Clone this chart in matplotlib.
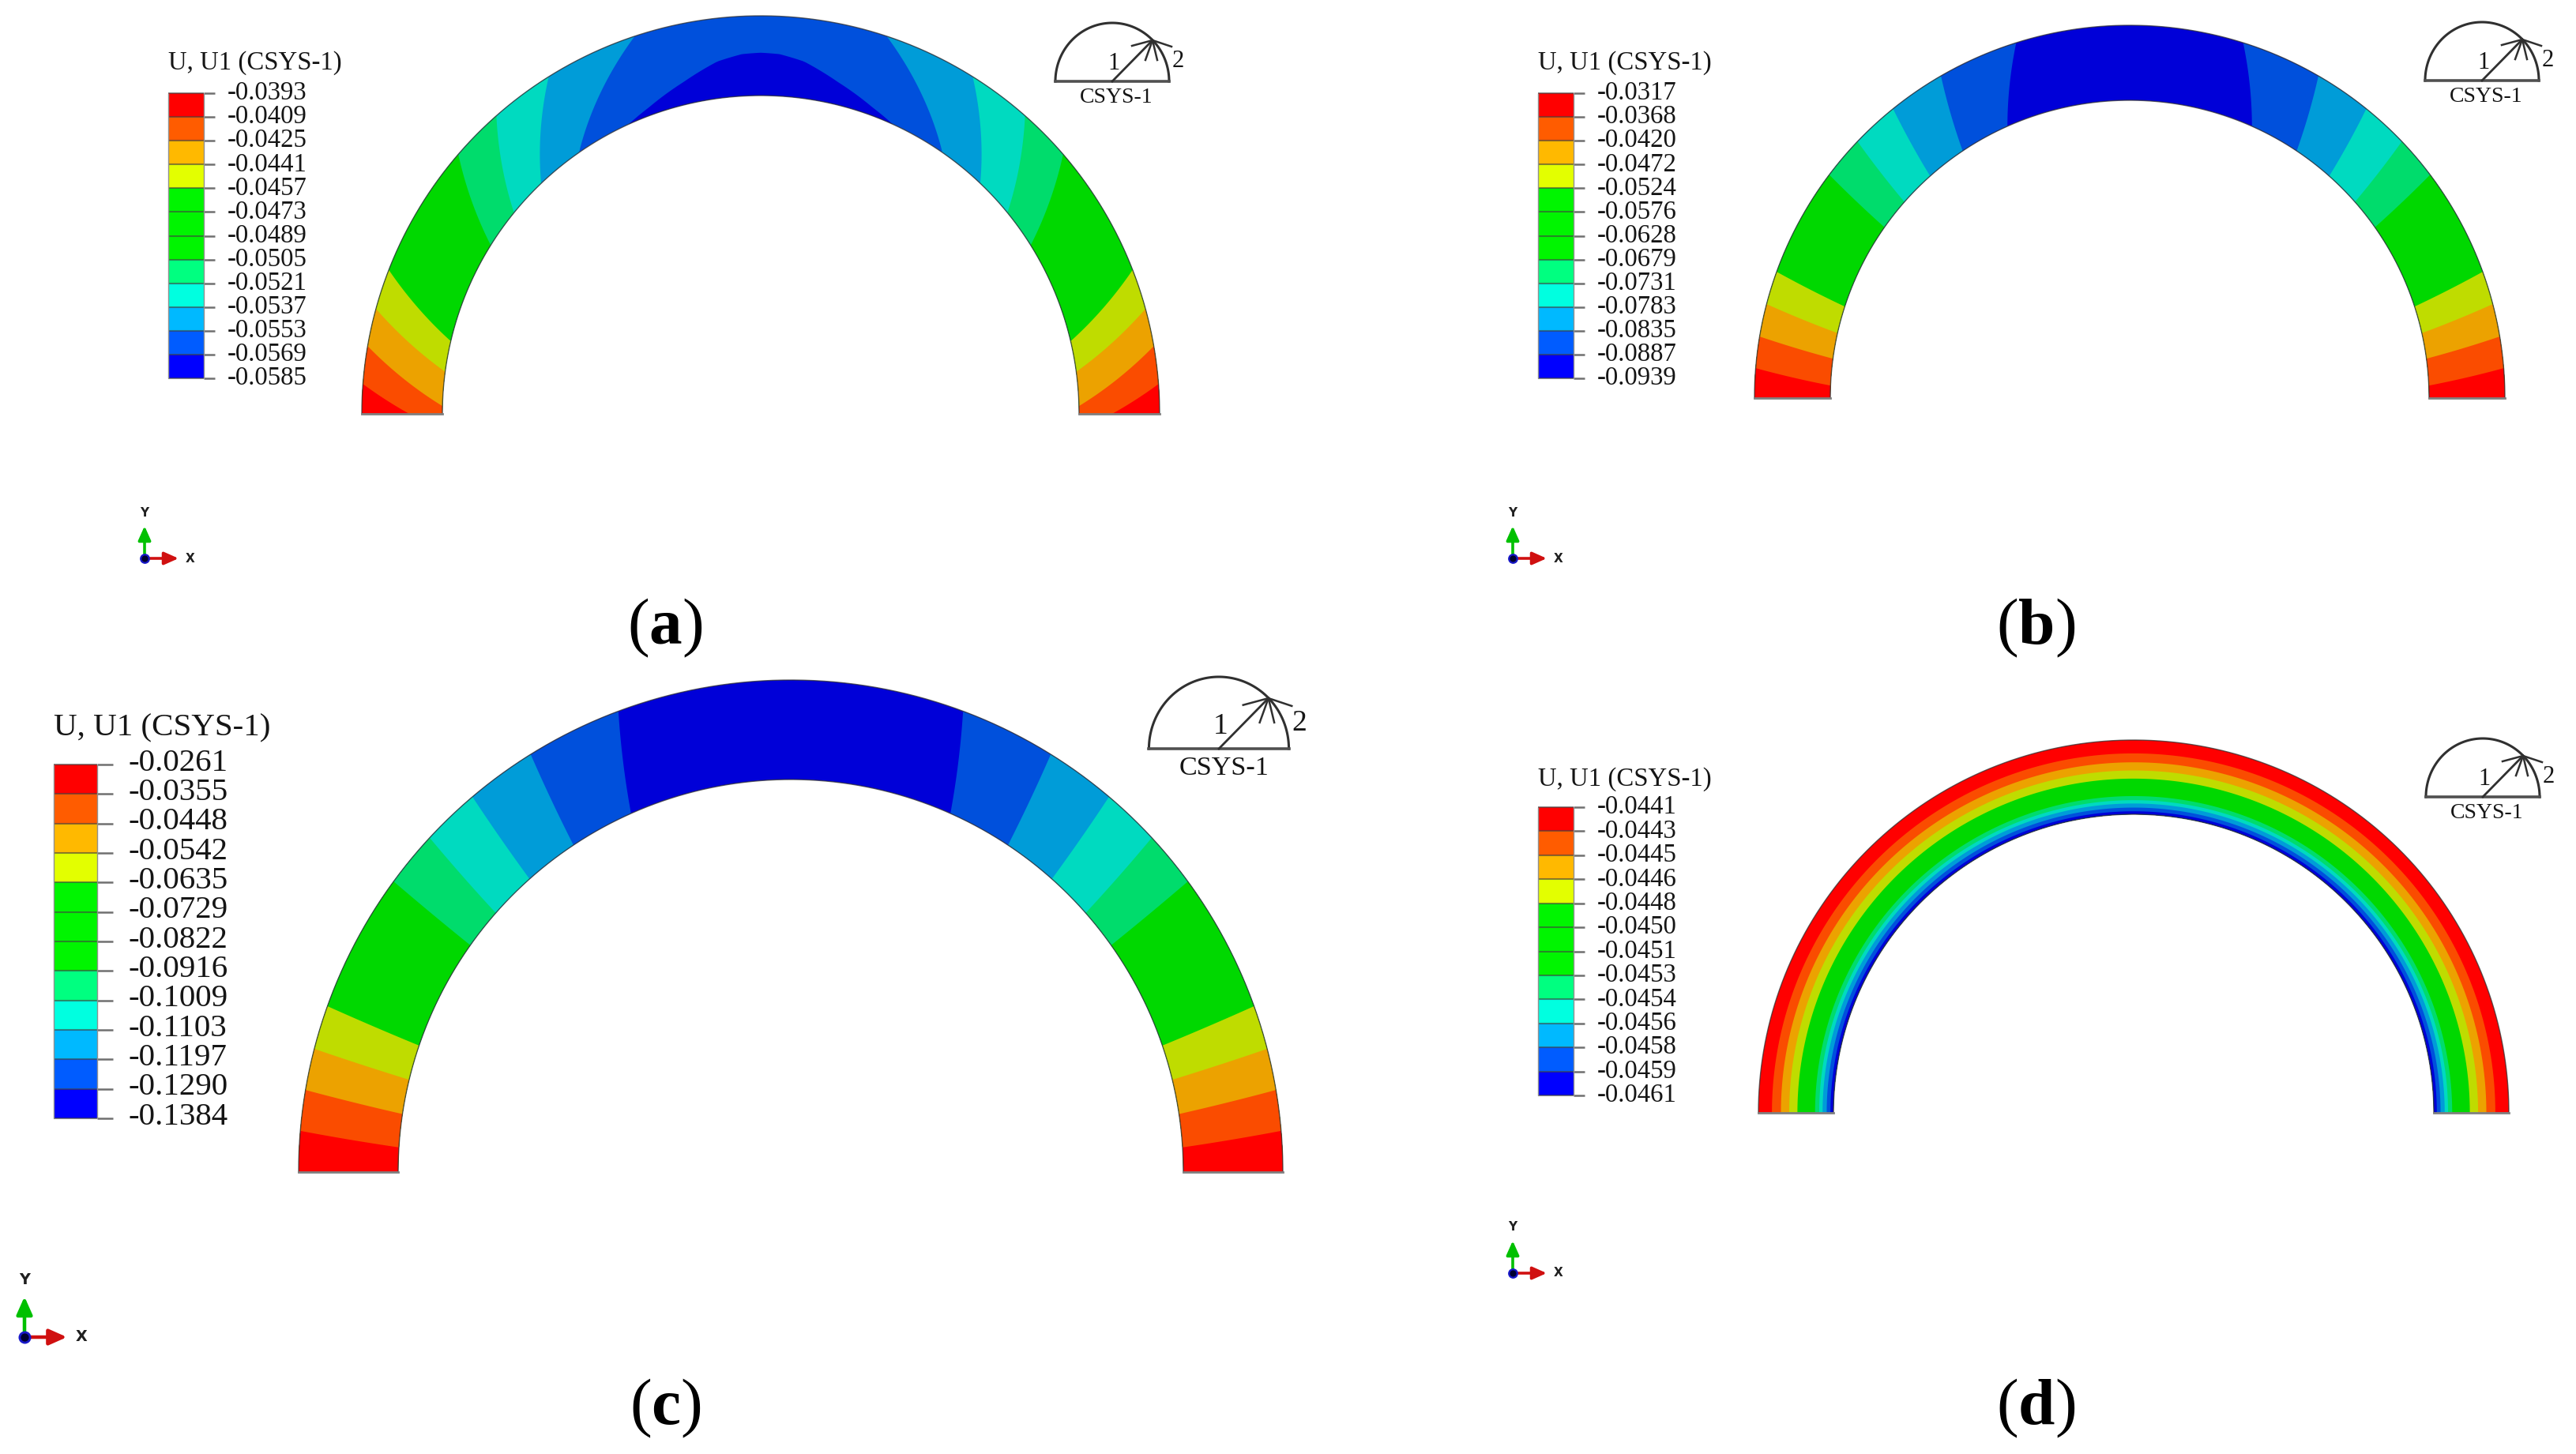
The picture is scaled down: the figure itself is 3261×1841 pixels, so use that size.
import numpy as np
import matplotlib
matplotlib.use('Agg')
import matplotlib.pyplot as plt

plt.rcParams['font.family'] = ['Liberation Serif', 'DejaVu Serif']
plt.rcParams['mathtext.fontset'] = 'custom'
plt.rcParams['mathtext.rm'] = 'Liberation Serif'
plt.rcParams['mathtext.bf'] = 'Liberation Serif:bold'

# legend values, one list per panel
labels_a = ['-0.0393', '-0.0409', '-0.0425', '-0.0441', '-0.0457', '-0.0473', '-0.0489',
            '-0.0505', '-0.0521', '-0.0537', '-0.0553', '-0.0569', '-0.0585']
labels_b = ['-0.0317', '-0.0368', '-0.0420', '-0.0472', '-0.0524', '-0.0576', '-0.0628',
            '-0.0679', '-0.0731', '-0.0783', '-0.0835', '-0.0887', '-0.0939']
labels_c = ['-0.0261', '-0.0355', '-0.0448', '-0.0542', '-0.0635', '-0.0729', '-0.0822',
            '-0.0916', '-0.1009', '-0.1103', '-0.1197', '-0.1290', '-0.1384']
labels_d = ['-0.0441', '-0.0443', '-0.0445', '-0.0446', '-0.0448', '-0.0450', '-0.0451',
            '-0.0453', '-0.0454', '-0.0456', '-0.0458', '-0.0459', '-0.0461']

# contour edges on the arch, degrees up from the springing
outer_a = [4.3, 9.8, 15.3, 21.2, 40.7, 48.5, 57.9, 71.6]
inner_a = [0.0, 1.4, 7.6, 13.2, 32.0, 39.2, 46.4, 55.2]
outer_b = [4.6, 9.5, 14.6, 19.8, 36.8, 43.5, 50.9, 59.8, 72.4]
inner_b = [2.4, 7.6, 12.6, 17.9, 35.0, 41.2, 48.2, 56.1, 65.9]
outer_c = [4.8, 9.6, 14.5, 19.7, 36.2, 42.8, 49.7, 58.1, 69.5]
inner_c = [3.6, 8.5, 13.6, 18.8, 35.3, 41.3, 48.3, 56.4, 66.0]

# panel a: red corner stops part way across the section, dark blue forms a cap
red_end_a = 0.41
cap_deg_a = [65.5, 70.0, 76.9, 83.0, 87.0, 90.0]
cap_frac_a = [0.0, 0.10, 0.28, 0.46, 0.525, 0.537]

# panel d: ring edges as a fraction of the depth, from the outside in
rings_d = [0.18, 0.30, 0.41, 0.52, 0.755, 0.81, 0.855, 0.91, 0.96]

legend_colors = ['#ff0000', '#ff5c00', '#ffb900', '#e3ff00', '#00f500', '#00f500', '#00f500',
                 '#00ff80', '#00ffe0', '#00b9ff', '#005cff', '#0000ff']
shades = ['#ff0000', '#fa4c00', '#eca200', '#bfdc00', '#00d800', '#00dc6c', '#00dac0',
          '#009cd8', '#0050dc', '#0000d8']

# cx, base y, outer rx, ry, inner rx, ry
arch_a = (963, 524, 505, 504, 403, 403)
arch_b = (2696, 504, 475, 472, 379, 377)
arch_c = (1001, 1484, 623, 623, 497, 497)
arch_d = (2701, 1409, 475, 472, 380, 378)


def to_xy(arch, deg, frac):
    cx, base, orx, ory, irx, iry = arch
    t = np.radians(deg)
    rx = irx + (orx - irx) * frac
    ry = iry + (ory - iry) * frac
    return cx - rx * np.cos(t), base - ry * np.sin(t)


def fill_region(ax, arch, deg, frac, color, zorder=2):
    # deg/frac describe a closed path on the left half, it gets mirrored as well
    x, y = to_xy(arch, deg, frac)
    ax.fill(x, y, color=color, lw=0, zorder=zorder)
    ax.fill(2 * arch[0] - x, y, color=color, lw=0, zorder=zorder)


def region_under(outer, inner, inner_frac=0.0):
    top = np.linspace(0, outer, 40)
    edge = np.linspace(outer, inner, 40)
    edge_frac = np.linspace(1, inner_frac, 40)
    bottom = np.linspace(inner, 0, 40)
    deg = np.r_[top, edge, bottom]
    frac = np.r_[np.ones(40), edge_frac, np.full(40, inner_frac)]
    return deg, frac


def draw_arch(ax, arch, outer, inner, inner_fracs=None):
    deg = np.r_[np.linspace(0, 180, 300), np.linspace(180, 0, 300)]
    frac = np.r_[np.ones(300), np.zeros(300)]
    x, y = to_xy(arch, deg, frac)
    ax.fill(x, y, color=shades[len(outer)], lw=0, zorder=1)
    for k in range(len(outer) - 1, -1, -1):
        f = inner_fracs[k] if inner_fracs else 0.0
        d, s = region_under(outer[k], inner[k], f)
        fill_region(ax, arch, d, s, shades[k], zorder=3)


def draw_rings(ax, arch, rings):
    edges = [0.0] + list(rings)
    for k, depth in enumerate(edges):
        deg = np.r_[np.linspace(0, 180, 300), np.linspace(180, 0, 300)]
        frac = np.r_[np.full(300, 1 - depth), np.zeros(300)]
        x, y = to_xy(arch, deg, frac)
        ax.fill(x, y, color=shades[k], lw=0, zorder=1 + k * 0.1)


def outline(ax, arch):
    t = np.linspace(0, 180, 300)
    for f in (0, 1):
        x, y = to_xy(arch, t, np.full(300, f))
        ax.plot(x, y, color='#303030', lw=1.0, alpha=0.75, zorder=5)
    for side in (-1, 1):
        ax.plot([arch[0] + side * arch[4], arch[0] + side * arch[2]], [arch[1], arch[1]],
                color='#808080', lw=2.0, zorder=5)


def draw_legend(ax, x, top, bottom, width, tick, label_x, labels, title, title_y, size, lift):
    ys = np.linspace(top, bottom, len(labels))
    for k, c in enumerate(legend_colors):
        ax.bar(x + width / 2, ys[k + 1] - ys[k], width=width, bottom=ys[k], color=c, lw=0, zorder=2)
    ax.hlines(ys, x, x + width, color='#404040', lw=1.5, alpha=0.6, zorder=3)
    ax.hlines(ys, x + width, x + width + tick, color='#707070', lw=1.8, zorder=3)
    ax.vlines([x, x + width], top, bottom, color='#909090', lw=1.0, zorder=3)
    for y, lab in zip(ys, labels):
        ax.text(label_x, y - lift, lab, fontsize=size, color='#151515', ha='left', va='center')
    ax.text(x, title_y, title, fontsize=size, color='#151515', ha='left', va='center')


def draw_csys(ax, cx, base, sc):
    t = np.linspace(0, np.pi, 100)
    col = '#303030'
    ax.plot(cx + 72 * sc * np.cos(t), base - 74 * sc * np.sin(t), color=col, lw=2.2)
    ax.plot([cx - 72 * sc, cx + 72 * sc], [base, base], color='#505050', lw=2.6)
    tip = (cx + 51 * sc, base - 52 * sc)
    ax.plot([cx, tip[0]], [base, tip[1]], color=col, lw=2.0)
    for dx, dy in [(-26, 7), (24, 8), (-9, 25), (6, 25)]:
        ax.plot([tip[0], tip[0] + dx * sc], [tip[1], tip[1] + dy * sc], color=col, lw=1.8)
    fs = 20 * sc
    ax.text(cx + 2 * sc, base - 23 * sc, '1', fontsize=fs * 1.1, color='#151515', ha='center', va='center')
    ax.text(cx + 83 * sc, base - 26 * sc, '2', fontsize=fs * 1.1, color='#151515', ha='center', va='center')
    ax.text(cx + 5 * sc, base + 20 * sc, 'CSYS-1', fontsize=fs, color='#151515', ha='center', va='center')


def draw_triad(ax, x0, y0, sc):
    ax.annotate('', xy=(x0, y0 - 41 * sc), xytext=(x0, y0),
                arrowprops=dict(arrowstyle='-|>,head_width=0.4,head_length=0.9', color='#00c000',
                                lw=2.6 * sc, shrinkA=0, shrinkB=0, mutation_scale=12 * sc))
    ax.annotate('', xy=(x0 + 43 * sc, y0), xytext=(x0, y0),
                arrowprops=dict(arrowstyle='-|>,head_width=0.4,head_length=0.9', color='#d01010',
                                lw=2.6 * sc, shrinkA=0, shrinkB=0, mutation_scale=12 * sc))
    ax.scatter([x0], [y0], s=85 * sc ** 2, color='#1818c8', lw=0, zorder=6)
    ax.scatter([x0], [y0], s=35 * sc ** 2, color='#000030', lw=0, zorder=7)
    ax.text(x0, y0 - 58 * sc, 'Y', fontsize=11 * sc, weight='bold', family='DejaVu Sans',
            ha='center', va='center', color='#202020')
    ax.text(x0 + 58 * sc, y0, 'X', fontsize=11 * sc, weight='bold', family='DejaVu Sans',
            ha='center', va='center', color='#202020')


fig = plt.figure(figsize=(32.61, 18.41), dpi=100)
ax = fig.add_axes([0, 0, 1, 1])
ax.set_xlim(0, 3261)
ax.set_ylim(1841, 0)
ax.axis('off')

# contour plots
draw_arch(ax, arch_a, outer_a, inner_a, inner_fracs=[red_end_a] + [0.0] * 7)
cap_steps = np.linspace(0, len(cap_deg_a) - 1, 60)
cap_deg = np.r_[np.interp(cap_steps, range(len(cap_deg_a)), cap_deg_a), np.linspace(90, cap_deg_a[0], 40)]
cap_frac = np.r_[np.interp(cap_steps, range(len(cap_deg_a)), cap_frac_a), np.zeros(40)]
fill_region(ax, arch_a, cap_deg, cap_frac, shades[9], zorder=2)
draw_arch(ax, arch_b, outer_b, inner_b)
draw_arch(ax, arch_c, outer_c, inner_c)
draw_rings(ax, arch_d, rings_d)
for arch in (arch_a, arch_b, arch_c, arch_d):
    outline(ax, arch)

title = 'U, U1 (CSYS-1)'
draw_legend(ax, 213, 118, 479, 45, 14, 288, labels_a, title, 80, 23.6, 0)
draw_legend(ax, 1947, 118, 479, 45, 14, 2022, labels_b, title, 80, 23.6, 0)
draw_legend(ax, 68, 968, 1416, 55, 20, 163, labels_c, title, 922, 29.5, 2)
draw_legend(ax, 1947, 1022, 1387, 45, 14, 2022, labels_d, title, 987, 23.6, 0)

draw_csys(ax, 1408, 103, 1.0)
draw_csys(ax, 3142, 102, 1.0)
draw_csys(ax, 1543, 948, 1.23)
draw_csys(ax, 3143, 1009, 1.0)

draw_triad(ax, 183, 707, 1.0)
draw_triad(ax, 1915, 707, 1.0)
draw_triad(ax, 31, 1693, 1.25)
draw_triad(ax, 1915, 1612, 1.0)

for x, y, letter in [(842, 815, 'a'), (2577, 815, 'b'), (842, 1803, 'c'), (2577, 1803, 'd')]:
    ax.text(x, y, '($\\mathbf{%s}$)' % letter, fontsize=60, color='black', ha='center', va='baseline')

fig.savefig('out.png', dpi=100, facecolor='white')
